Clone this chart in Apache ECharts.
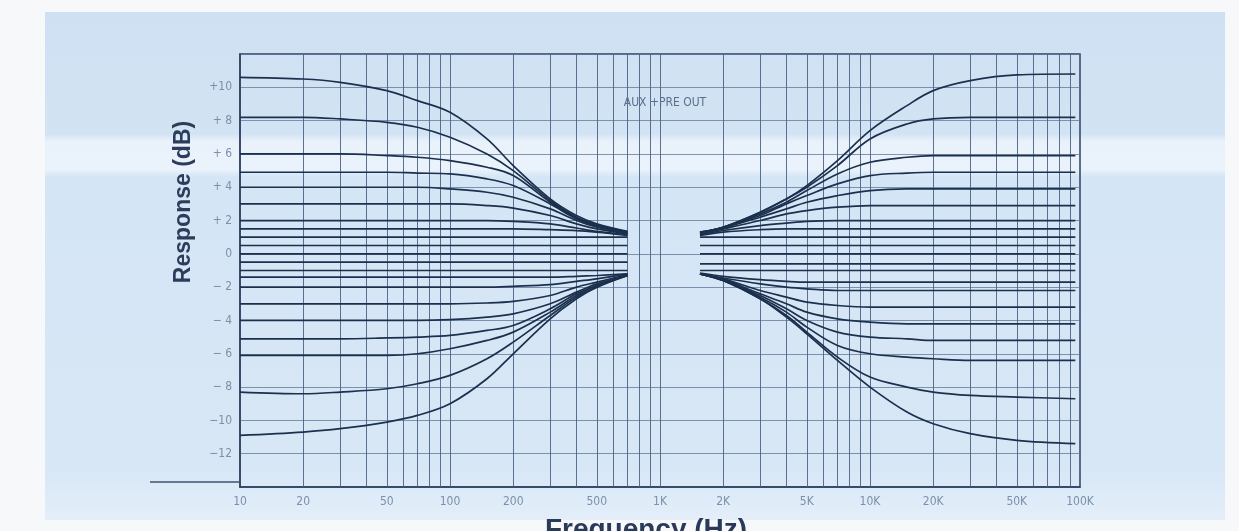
<!DOCTYPE html>
<html>
<head>
<meta charset="utf-8">
<script src="https://cdn.jsdelivr.net/npm/echarts@6/dist/echarts.min.js"></script>
<style>
  html, body { margin: 0; padding: 0; background: #f7f8fa; }
  #chart { width: 1239px; height: 531px; }
</style>
</head>
<body>
<div id="chart"></div>
<script>
// Tone-control response family: bass curves on the left, treble curves on the right.
const freqTickValues = [10, 20, 50, 100, 200, 500, 1000, 2000, 5000, 10000, 20000, 50000, 100000];
const freqTickLabels = ['10', '20', '50', '100', '200', '500', '1K', '2K', '5K', '10K', '20K', '50K', '100K'];
const gridFreqs = [20, 30, 40, 50, 60, 70, 80, 90, 100, 200, 300, 400, 500, 600, 700, 800, 900,
  1000, 2000, 3000, 4000, 5000, 6000, 7000, 8000, 9000, 10000, 20000, 30000, 40000, 50000,
  60000, 70000, 80000, 90000];

// Bass side (Hz)
const bassFreqs = [10, 20, 30, 50, 70, 100, 150, 200, 300, 400, 500, 700];
const bassBoost = [
  [10.6, 10.5, 10.3, 9.8, 9.2, 8.5, 6.9, 5.3, 3.3, 2.3, 1.8, 1.35],
  [8.2, 8.2, 8.1, 7.9, 7.6, 7.0, 6.0, 5.0, 3.2, 2.2, 1.75, 1.3],
  [6.0, 6.0, 6.0, 5.9, 5.8, 5.6, 5.2, 4.7, 3.1, 2.15, 1.7, 1.3],
  [4.9, 4.9, 4.9, 4.9, 4.85, 4.8, 4.5, 4.1, 3.0, 2.1, 1.65, 1.25],
  [4.0, 4.0, 4.0, 4.0, 4.0, 3.9, 3.7, 3.4, 2.7, 2.0, 1.6, 1.25],
  [3.0, 3.0, 3.0, 3.0, 3.0, 3.0, 2.9, 2.75, 2.3, 1.8, 1.5, 1.2],
  [2.0, 2.0, 2.0, 2.0, 2.0, 2.0, 2.0, 1.95, 1.8, 1.55, 1.35, 1.15],
  [1.5, 1.5, 1.5, 1.5, 1.5, 1.5, 1.5, 1.5, 1.45, 1.4, 1.3, 1.1],
  [1.0, 1.0, 1.0, 1.0, 1.0, 1.0, 1.0, 1.0, 1.0, 1.0, 1.0, 1.0],
  [0.5, 0.5, 0.5, 0.5, 0.5, 0.5, 0.5, 0.5, 0.5, 0.5, 0.5, 0.5]
];
const bassFlat = [0, 0, 0, 0, 0, 0, 0, 0, 0, 0, 0, 0];
const bassCut = [
  [-10.9, -10.7, -10.5, -10.1, -9.7, -9.0, -7.5, -6.0, -3.9, -2.7, -2.0, -1.3],
  [-8.3, -8.4, -8.3, -8.1, -7.8, -7.3, -6.3, -5.3, -3.7, -2.6, -2.0, -1.3],
  [-6.1, -6.1, -6.1, -6.1, -6.0, -5.7, -5.2, -4.7, -3.5, -2.5, -1.9, -1.3],
  [-5.1, -5.1, -5.1, -5.05, -5.0, -4.9, -4.6, -4.3, -3.3, -2.4, -1.9, -1.3],
  [-4.0, -4.0, -4.0, -4.0, -4.0, -3.95, -3.8, -3.6, -3.0, -2.3, -1.8, -1.3],
  [-3.0, -3.0, -3.0, -3.0, -3.0, -3.0, -2.95, -2.85, -2.5, -2.0, -1.7, -1.25],
  [-2.0, -2.0, -2.0, -2.0, -2.0, -2.0, -2.0, -1.95, -1.85, -1.65, -1.5, -1.2],
  [-1.4, -1.4, -1.4, -1.4, -1.4, -1.4, -1.4, -1.4, -1.4, -1.35, -1.3, -1.2],
  [-1.0, -1.0, -1.0, -1.0, -1.0, -1.0, -1.0, -1.0, -1.0, -1.0, -1.0, -1.0],
  [-0.5, -0.5, -0.5, -0.5, -0.5, -0.5, -0.5, -0.5, -0.5, -0.5, -0.5, -0.5]
];

// Treble side (Hz)
const trebleFreqs = [1550, 2000, 3000, 4000, 5000, 7000, 10000, 15000, 20000, 30000, 50000, 95000];
const trebleBoost = [
  [1.3, 1.6, 2.5, 3.3, 4.1, 5.6, 7.4, 8.9, 9.8, 10.4, 10.75, 10.8],
  [1.3, 1.6, 2.5, 3.3, 4.0, 5.3, 6.9, 7.8, 8.1, 8.2, 8.2, 8.2],
  [1.3, 1.6, 2.4, 3.1, 3.8, 4.8, 5.5, 5.8, 5.9, 5.9, 5.9, 5.9],
  [1.25, 1.6, 2.3, 3.0, 3.5, 4.2, 4.7, 4.85, 4.9, 4.9, 4.9, 4.9],
  [1.25, 1.55, 2.2, 2.7, 3.1, 3.5, 3.8, 3.9, 3.9, 3.9, 3.9, 3.9],
  [1.2, 1.5, 2.0, 2.4, 2.6, 2.8, 2.9, 2.9, 2.9, 2.9, 2.9, 2.9],
  [1.15, 1.4, 1.7, 1.85, 1.95, 2.0, 2.0, 2.0, 2.0, 2.0, 2.0, 2.0],
  [1.1, 1.3, 1.45, 1.5, 1.5, 1.5, 1.5, 1.5, 1.5, 1.5, 1.5, 1.5],
  [1.0, 1.0, 1.0, 1.0, 1.0, 1.0, 1.0, 1.0, 1.0, 1.0, 1.0, 1.0],
  [0.5, 0.5, 0.5, 0.5, 0.5, 0.5, 0.5, 0.5, 0.5, 0.5, 0.5, 0.5]
];
const trebleFlat = [0, 0, 0, 0, 0, 0, 0, 0, 0, 0, 0, 0];
const trebleCut = [
  [-1.2, -1.6, -2.7, -3.8, -4.8, -6.4, -8.0, -9.5, -10.2, -10.8, -11.2, -11.4],
  [-1.2, -1.6, -2.7, -3.7, -4.7, -6.2, -7.4, -8.0, -8.3, -8.5, -8.6, -8.7],
  [-1.2, -1.6, -2.6, -3.5, -4.4, -5.5, -6.0, -6.2, -6.3, -6.4, -6.4, -6.4],
  [-1.2, -1.6, -2.5, -3.3, -4.0, -4.7, -5.0, -5.1, -5.2, -5.2, -5.2, -5.2],
  [-1.2, -1.55, -2.4, -3.0, -3.5, -3.9, -4.1, -4.2, -4.2, -4.2, -4.2, -4.2],
  [-1.2, -1.5, -2.2, -2.6, -2.9, -3.1, -3.2, -3.2, -3.2, -3.2, -3.2, -3.2],
  [-1.2, -1.45, -1.8, -2.0, -2.1, -2.2, -2.2, -2.2, -2.2, -2.2, -2.2, -2.2],
  [-1.15, -1.35, -1.55, -1.65, -1.7, -1.7, -1.7, -1.7, -1.7, -1.7, -1.7, -1.7],
  [-1.0, -1.0, -1.0, -1.0, -1.0, -1.0, -1.0, -1.0, -1.0, -1.0, -1.0, -1.0],
  [-0.6, -0.6, -0.6, -0.6, -0.6, -0.6, -0.6, -0.6, -0.6, -0.6, -0.6, -0.6]
];

const curveColor = '#1b304d';
const gridColor = '#4a6384';

function curveSeries(freqs, values) {
  return {
    type: 'line',
    data: freqs.map((f, i) => [f, values[i]]),
    smooth: 0.35,
    showSymbol: false,
    silent: true,
    lineStyle: { color: curveColor, width: 1.7 },
    z: 5
  };
}

const series = [];
// vertical log-paper rulings
series.push({
  type: 'line',
  data: [],
  silent: true,
  markLine: {
    silent: true,
    symbol: ['none', 'none'],
    label: { show: false },
    lineStyle: { color: gridColor, width: 1, type: 'solid', opacity: 0.9 },
    data: gridFreqs.map(f => ({ xAxis: f }))
  },
  z: 1
});
bassBoost.concat([bassFlat], bassCut).forEach(v => series.push(curveSeries(bassFreqs, v)));
trebleBoost.concat([trebleFlat], trebleCut).forEach(v => series.push(curveSeries(trebleFreqs, v)));

const tickFont = "'Liberation Sans Narrow', 'DejaVu Sans Condensed', 'Liberation Sans', sans-serif";

const chart = echarts.init(document.getElementById('chart'), null, { renderer: 'canvas' });
chart.setOption({
  backgroundColor: '#f7f8fa',
  animation: false,
  graphic: [
    {
      type: 'rect', z: -10, silent: true,
      shape: { x: 45, y: 12, width: 1180, height: 508 },
      style: {
        fill: {
          type: 'linear', x: 0, y: 0, x2: 0, y2: 1,
          colorStops: [
            { offset: 0, color: '#cfe0f2' },
            { offset: 0.24, color: '#d2e3f4' },
            { offset: 0.255, color: '#e9f2fb' },
            { offset: 0.31, color: '#eaf2fb' },
            { offset: 0.325, color: '#d4e5f5' },
            { offset: 0.9, color: '#d8e7f6' },
            { offset: 1, color: '#e3eef9' }
          ]
        }
      }
    },
    {
      type: 'line', silent: true, z: 10,
      shape: { x1: 150, y1: 482, x2: 240, y2: 482 },
      style: { stroke: '#3d5272', lineWidth: 1.5 }
    },
    {
      type: 'text', silent: true, z: 10,
      x: 184, y: 202, rotation: Math.PI / 2,
      style: {
        text: 'Response (dB)', fill: '#2c3d5c',
        font: "600 23px 'Liberation Sans', Arial, sans-serif",
        align: 'center', verticalAlign: 'middle'
      }
    },
    {
      type: 'text', silent: true, z: 10,
      x: 646, y: 530,
      style: {
        text: 'Frequency (Hz)', fill: '#2a3b5a',
        font: "600 28px 'Liberation Sans', Arial, sans-serif",
        align: 'center', verticalAlign: 'middle'
      }
    },
    {
      type: 'text', silent: true, z: 10,
      x: 665, y: 103,
      style: {
        text: 'AUX +PRE OUT', fill: '#5a6f8c',
        font: "12px " + tickFont,
        align: 'center', verticalAlign: 'middle'
      }
    }
  ],
  grid: {
    left: 240, right: 159, top: 54, bottom: 44,
    show: true, borderColor: '#2e4262', borderWidth: 1.5,
    backgroundColor: 'transparent'
  },
  xAxis: {
    type: 'log', logBase: 10, min: 10, max: 100000,
    axisLine: { show: true, onZero: false, lineStyle: { color: '#2e4262', width: 1.5 } },
    axisTick: { show: false },
    splitLine: { show: false },
    axisLabel: {
      customValues: freqTickValues,
      formatter: v => {
        const i = freqTickValues.findIndex(t => Math.abs(t - v) / t < 1e-6);
        return i >= 0 ? freqTickLabels[i] : '';
      },
      color: '#7c90aa', fontSize: 12, fontFamily: tickFont, margin: 9
    }
  },
  yAxis: {
    type: 'value', min: -14, max: 12, interval: 2,
    axisLine: { show: true, onZero: false, lineStyle: { color: '#2e4262', width: 1.5 } },
    axisTick: { show: false },
    splitLine: { show: true, lineStyle: { color: '#5c7596', width: 1, opacity: 0.75 } },
    axisLabel: {
      formatter: v => {
        if (v >= 12 || v <= -14) return '';
        const a = Math.abs(v);
        const gap = a >= 10 ? '' : ' ';
        if (v > 0) return '+' + gap + a;
        if (v < 0) return '\u2212' + gap + a;
        return '0';
      },
      color: '#7c90aa', fontSize: 12, fontFamily: tickFont, margin: 8
    }
  },
  series: series
});
</script>
</body>
</html>
